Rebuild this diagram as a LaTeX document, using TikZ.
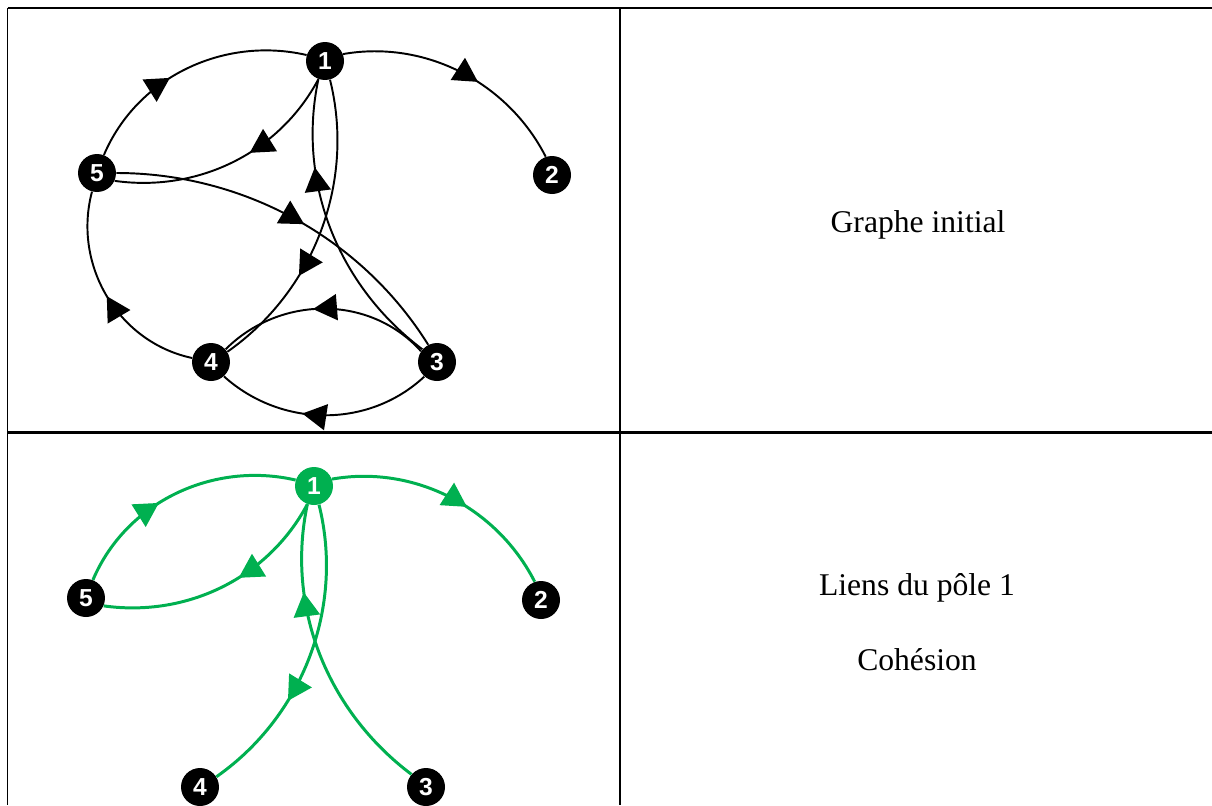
\documentclass[tikz,border=0pt]{standalone}
\usepackage{fontspec}
\setmainfont{Liberation Serif}
\newfontfamily\numfont{Liberation Sans}
\usetikzlibrary{arrows.meta,decorations.markings}
\definecolor{polegreen}{RGB}{0,176,80}

\begin{document}
\begin{tikzpicture}[x=0.02cm,y=0.02cm,
  vertex/.style={circle,fill=black,inner sep=0pt,minimum size=0.76cm,
    text=white,font=\numfont\bfseries\fontsize{14}{14}\selectfont},
  link/.style={line width=1.1pt},
  greenlink/.style={line width=1.7pt,draw=polegreen},
  midarrow/.style={postaction={decorate},decoration={markings,
    mark=at position #1 with {\arrow{Triangle[length=0.48cm,width=0.52cm]}}}},
  celltext/.style={font=\fontsize{18}{22}\selectfont}
]
\useasboundingbox (0,0) rectangle (1212,-805);

% table
\draw[line width=1.2pt] (7.5,-8) -- (1212,-8);
\draw[line width=1.2pt] (7.5,-432.5) -- (1212,-432.5);
\draw[line width=0.9pt] (7.5,-8) -- (7.5,-805);
\draw[line width=0.9pt] (620,-8) -- (620,-805);

% initial graph
\node[vertex] (a1) at (325,-61) {1};
\node[vertex] (a2) at (552,-175) {2};
\node[vertex] (a3) at (437,-362) {3};
\node[vertex] (a4) at (211,-362) {4};
\node[vertex] (a5) at (97,-173) {5};

\draw[link,midarrow=0.58] (a1.21) to[out=10,in=117,looseness=0.94] (a2.109);
\draw[link,midarrow=0.42] (a5.69) to[out=67,in=167,looseness=0.96] (a1.162);
\draw[link,midarrow=0.42] (a1.250) to[out=242,in=-8,looseness=0.94] (a5.-24);
\draw[link,midarrow=0.53] (a5.0) to[out=0,in=122,looseness=0.91] (a3.117);
\draw[link,midarrow=0.71] (a3.139) to[out=143,in=258,looseness=0.93] (a1.250);
\draw[link,midarrow=0.66] (a1.285) to[out=-76,in=35,looseness=0.93] (a4.32);
\draw[link,midarrow=0.5] (a4.168) to[out=168,in=255] (a5.255);
\draw[link,midarrow=0.55] (a3.146) to[out=132,in=45] (a4.41);
\draw[link,midarrow=0.6] (a3.229) to[out=223,in=-42,looseness=0.98] (a4.-48);

\node[celltext] (t1) at (918,-225) {Graphe initial};

% links of pole 1
\node[vertex,fill=polegreen] (b1) at (314,-486) {1};
\node[vertex] (b2) at (541,-600) {2};
\node[vertex] (b3) at (426,-787) {3};
\node[vertex] (b4) at (200,-787) {4};
\node[vertex] (b5) at (86,-598) {5};

\draw[greenlink,midarrow=0.42] (b5.69) to[out=67,in=167,looseness=0.96] (b1.162);
\draw[greenlink,midarrow=0.42] (b1.250) to[out=242,in=-8,looseness=0.94] (b5.-24);
\draw[greenlink,midarrow=0.58] (b1.21) to[out=10,in=117,looseness=0.94] (b2.109);
\draw[greenlink,midarrow=0.71] (b3.139) to[out=143,in=258,looseness=0.93] (b1.250);
\draw[greenlink,midarrow=0.66] (b1.285) to[out=-76,in=35,looseness=0.93] (b4.32);

\node[celltext] (t2) at (917,-588) {Liens du pôle 1};
\node[celltext] (t3) at (917,-660) {Cohésion};

\end{tikzpicture}
\end{document}
